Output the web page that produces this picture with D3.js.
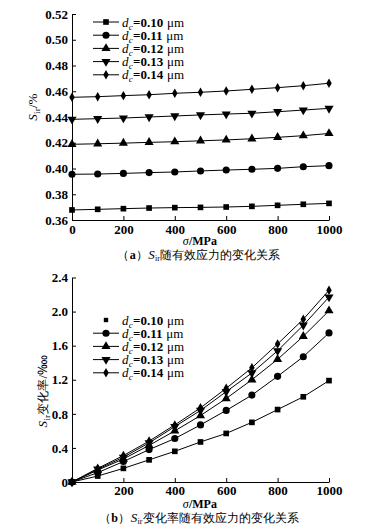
<!DOCTYPE html>
<html>
<head>
<meta charset="utf-8">
<script src="https://cdn.jsdelivr.net/npm/d3@7"></script>
<style>
  body { margin: 0; background: #fff; }
  svg text { font-family: "Liberation Serif", "Times New Roman", serif; fill: #000; }
</style>
</head>
<body>
<svg id="chart" width="373" height="532"></svg>
<script>
// stress levels (MPa)
const stress = [0, 100, 200, 300, 400, 500, 600, 700, 800, 900, 1000]
const diameters = ['0.10', '0.11', '0.12', '0.13', '0.14']

// (a) Sir, %
const sirD010 = [0.3678, 0.3683, 0.3688, 0.3693, 0.3696, 0.3698, 0.3701, 0.3706, 0.3714, 0.3722, 0.3729]
const sirD011 = [0.3955, 0.3957, 0.3962, 0.3968, 0.3973, 0.3981, 0.3988, 0.3994, 0.4001, 0.4014, 0.4022]
const sirD012 = [0.4188, 0.4192, 0.4197, 0.4203, 0.4208, 0.4215, 0.4222, 0.4231, 0.4242, 0.4255, 0.4272]
const sirD013 = [0.4382, 0.4387, 0.4392, 0.4400, 0.4408, 0.4416, 0.4423, 0.4429, 0.4441, 0.4454, 0.4467]
const sirD014 = [0.4553, 0.4558, 0.4566, 0.4573, 0.4584, 0.4592, 0.4602, 0.4615, 0.4628, 0.4643, 0.4662]

// (b) change rate of Sir, per ten thousand
const rateD010 = [0, 0.07, 0.16, 0.26, 0.36, 0.47, 0.57, 0.70, 0.85, 1.00, 1.19]
const rateD011 = [0, 0.11, 0.24, 0.38, 0.51, 0.67, 0.84, 1.02, 1.24, 1.47, 1.75]
const rateD012 = [0, 0.14, 0.27, 0.43, 0.60, 0.78, 0.98, 1.20, 1.44, 1.71, 2.01]
const rateD013 = [0, 0.15, 0.29, 0.46, 0.65, 0.84, 1.06, 1.28, 1.54, 1.84, 2.17]
const rateD014 = [0, 0.16, 0.31, 0.48, 0.67, 0.87, 1.10, 1.34, 1.62, 1.91, 2.25]

const ticksX = [0, 200, 400, 600, 800, 1000]
const ticksYA = [0.36, 0.38, 0.40, 0.42, 0.44, 0.46, 0.48, 0.50, 0.52]
const ticksYB = [0, 0.4, 0.8, 1.2, 1.6, 2.0, 2.4]

const CJK = '"Noto Sans CJK SC", sans-serif'

const svg = d3.select('#chart')

const symbols = [
  { type: d3.symbolSquare, size: 32, rot: 0 },
  { type: d3.symbolCircle, size: 40, rot: 0 },
  { type: d3.symbolTriangle, size: 36, rot: 0 },
  { type: d3.symbolTriangle, size: 36, rot: 180 },
  { type: d3.symbolDiamond, size: 26, rot: 0 },
]

function marker(g, i, x, y, scale = 1) {
  const s = symbols[i]
  g.append('path')
      .attr('d', d3.symbol().type(s.type).size(s.size * scale)())
      .attr('transform', `translate(${x},${y}) rotate(${s.rot})`)
      .attr('fill', '#000')
}

// lays out mixed-style pieces as separate text nodes, side by side
function richText(g, x, y, parts, anchor = 'start') {
  const nodes = parts.map(p => g.append('text')
      .attr('y', y + (p.dy || 0))
      .attr('font-size', p.size || 13)
      .attr('font-style', p.italic ? 'italic' : null)
      .attr('font-weight', p.bold ? 'bold' : null)
      .attr('font-family', p.cjk ? CJK : null)
      .text(p.text))
  const widths = nodes.map((n, i) => n.node().getComputedTextLength() + 0.3 + (parts[i].gap || 0))
  const total = d3.sum(widths)
  let cx = anchor === 'middle' ? x - total / 2 : x
  nodes.forEach((n, i) => {
    n.attr('x', cx)
    cx += widths[i]
  })
}

function panel(spec) {
  const { series, yDomain, yRange, yTicks, yFormat, xHideZero, legendTop, legendFirstNoLine, xPad } = spec

  const x = d3.scaleLinear().domain([0, 1000]).range([72, 329])
  const y = d3.scaleLinear().domain(yDomain).range(yRange)

  const g = svg.append('g')

  const axisY = d3.axisLeft(y)
      .tickValues(yTicks)
      .tickFormat(yFormat)
      .tickSizeInner(-4)
      .tickSizeOuter(0)
      .tickPadding(4)

  const axisX = d3.axisBottom(x)
      .tickValues(ticksX)
      .tickFormat(d => (xHideZero && d === 0) ? '' : d)
      .tickSizeInner(-4)
      .tickSizeOuter(0)
      .tickPadding(xPad)

  g.append('g')
      .attr('transform', `translate(0,${yRange[0]})`)
      .call(axisX)
  g.append('g')
      .attr('transform', 'translate(72,0)')
      .call(axisY)

  g.selectAll('.tick text')
      .attr('font-family', '"Liberation Serif", serif')
      .attr('font-weight', 'bold')
      .attr('font-size', 13)
  g.selectAll('.domain, .tick line').attr('stroke', '#000').attr('stroke-width', 1)

  const line = d3.line()
      .x((d, i) => x(stress[i]))
      .y(d => y(d))

  series.forEach((vals, si) => {
    g.append('path')
        .datum(vals)
        .attr('d', line)
        .attr('fill', 'none')
        .attr('stroke', '#000')
        .attr('stroke-width', 1)
    vals.forEach((v, i) => marker(g, si, x(stress[i]), y(v)))
  })

  // legend
  diameters.forEach((dia, i) => {
    const ly = legendTop + i * 13.2
    if (!(legendFirstNoLine && i === 0)) {
      g.append('line')
          .attr('x1', 93).attr('x2', 119)
          .attr('y1', ly).attr('y2', ly)
          .attr('stroke', '#000')
    }
    marker(g, i, 106, ly, legendFirstNoLine && i === 0 ? 0.6 : 1)
    richText(g, 122, ly + 4.5, [
      { text: 'd', italic: true },
      { text: 'c', italic: true, size: 9, dy: 3 },
      { text: '=' + dia, bold: true, gap: 3.5 },
      { text: 'μm' },
    ])
  })

  return g
}

// (a)
panel({
  series: [sirD010, sirD011, sirD012, sirD013, sirD014],
  yDomain: [0.36, 0.52],
  yRange: [220, 14],
  yTicks: ticksYA,
  yFormat: d3.format('.2f'),
  xHideZero: false,
  legendTop: 22,
  legendFirstNoLine: false,
  xPad: 5,
})

// (b)
panel({
  series: [rateD010, rateD011, rateD012, rateD013, rateD014],
  yDomain: [0, 2.4],
  yRange: [482, 277.5],
  yTicks: ticksYB,
  yFormat: d => d === 0 ? '0' : d3.format('.1f')(d),
  xHideZero: true,
  legendTop: 320,
  legendFirstNoLine: true,
  xPad: 4,
})

// axis titles
const titleA = svg.append('g').attr('transform', 'translate(37,107) rotate(-90)')
richText(titleA, 0, 0, [
  { text: 'S', italic: true },
  { text: 'ir', size: 9, dy: 3 },
  { text: '/%' },
], 'middle')

const titleB = svg.append('g').attr('transform', 'translate(47,391) rotate(-90)')
richText(titleB, 0, 0, [
  { text: 'S', italic: true },
  { text: 'ir', size: 9, dy: 3 },
  { text: '变化率', cjk: true, size: 12 },
  { text: '/‱' },
], 'middle')

richText(svg, 200, 245, [{ text: 'σ', italic: true, size: 12 }, { text: '/MPa', bold: true, size: 12 }], 'middle')
richText(svg, 200, 508, [{ text: 'σ', italic: true, size: 12 }, { text: '/MPa', bold: true, size: 12 }], 'middle')

function caption(y, letter, tail) {
  richText(svg, 199, y, [
    { text: '（', cjk: true, size: 12 },
    { text: letter, bold: true, size: 12 },
    { text: '）', cjk: true, size: 12 },
    { text: 'S', italic: true, size: 13 },
    { text: 'ir', size: 8, dy: 2 },
    { text: tail, cjk: true, size: 12 },
  ], 'middle')
}
caption(259, 'a', '随有效应力的变化关系')
caption(522, 'b', '变化率随有效应力的变化关系')
</script>
</body>
</html>
